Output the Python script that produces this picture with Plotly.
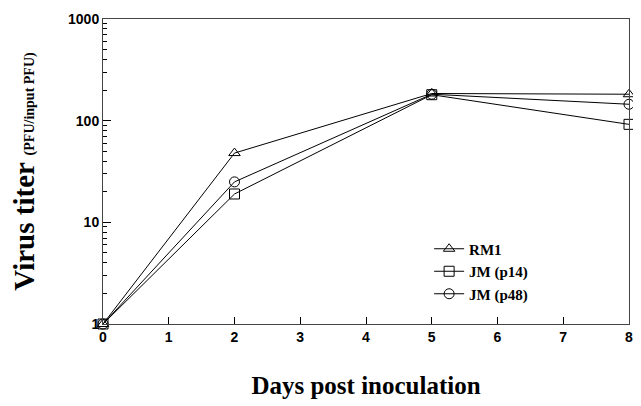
import plotly.graph_objects as go

days = [0, 2, 5, 8]
rm1 = [1, 48, 185, 182]
jm_p14 = [1, 19, 180, 92]
jm_p48 = [1, 25, 182, 145]

x_ticks = [0, 1, 2, 3, 4, 5, 6, 7, 8]
y_ticks = [1, 10, 100, 1000]
y_tick_labels = ["1", "10", "100", "1000"]
y_minor = [m * d for d in (1, 10, 100) for m in range(2, 10)]

series = [
    ("<b>RM1</b>", rm1, "triangle-up-open"),
    ("<b>JM (p14)</b>", jm_p14, "square-open"),
    ("<b>JM (p48)</b>", jm_p48, "circle-open"),
]

fig = go.Figure()
for name, vals, sym in series:
    fig.add_trace(go.Scatter(
        x=days, y=vals, name=name, mode="lines+markers",
        line=dict(color="black", width=1),
        marker=dict(symbol=sym, size=10, color="black", line=dict(width=1, color="black")),
        cliponaxis=False,
    ))

# significance asterisks
fig.add_annotation(x=2, y=rm1[1], text="*", showarrow=False, xshift=10, yshift=8,
                   font=dict(family="Liberation Serif", size=14, color="black"))
fig.add_annotation(x=8, y=rm1[3], text="*", showarrow=False, xshift=7, yshift=3,
                   font=dict(family="Liberation Serif", size=9, color="black"))
fig.add_annotation(x=8, y=jm_p48[3], text="*", showarrow=False, xshift=7, yshift=3,
                   font=dict(family="Liberation Serif", size=9, color="black"))

fig.update_layout(
    width=633, height=398,
    margin=dict(l=95, r=12, t=11, b=82),
    paper_bgcolor="white", plot_bgcolor="white",
    showlegend=True,
    legend=dict(x=0.62, y=0.30, xanchor="left", yanchor="top",
                bgcolor="rgba(0,0,0,0)", tracegroupgap=0,
                font=dict(family="Liberation Serif", size=15, color="black"),
                itemwidth=30),
    xaxis=dict(
        range=[0, 8], tickvals=x_ticks, ticks="inside", ticklen=7, tickwidth=1,
        tickcolor="black", showline=True, linecolor="#444", linewidth=1, mirror=True,
        showgrid=False, zeroline=False, automargin=False,
        tickfont=dict(family="Liberation Sans", size=14, color="black", weight="bold"),
        title=dict(text="<b>Days post inoculation</b>", standoff=32,
                   font=dict(family="Liberation Serif", size=25, color="black")),
    ),
    yaxis=dict(
        type="log", range=[0, 3], tickvals=y_ticks, ticktext=y_tick_labels,
        ticks="inside", ticklen=8, tickwidth=1, tickcolor="black",
        minor=dict(tickvals=y_minor, ticks="inside", ticklen=4, tickcolor="black", showgrid=False),
        showline=True, linecolor="#444", linewidth=1, mirror=True,
        showgrid=False, zeroline=False, automargin=False,
        tickfont=dict(family="Liberation Sans", size=14, color="black", weight="bold"),
        title=dict(text="<b>Virus titer </b><span style='font-size:14px'><b>(PFU/input PFU)</b></span>",
                   standoff=26,
                   font=dict(family="Liberation Serif", size=29, color="black")),
    ),
)

fig.write_html("out.html")
